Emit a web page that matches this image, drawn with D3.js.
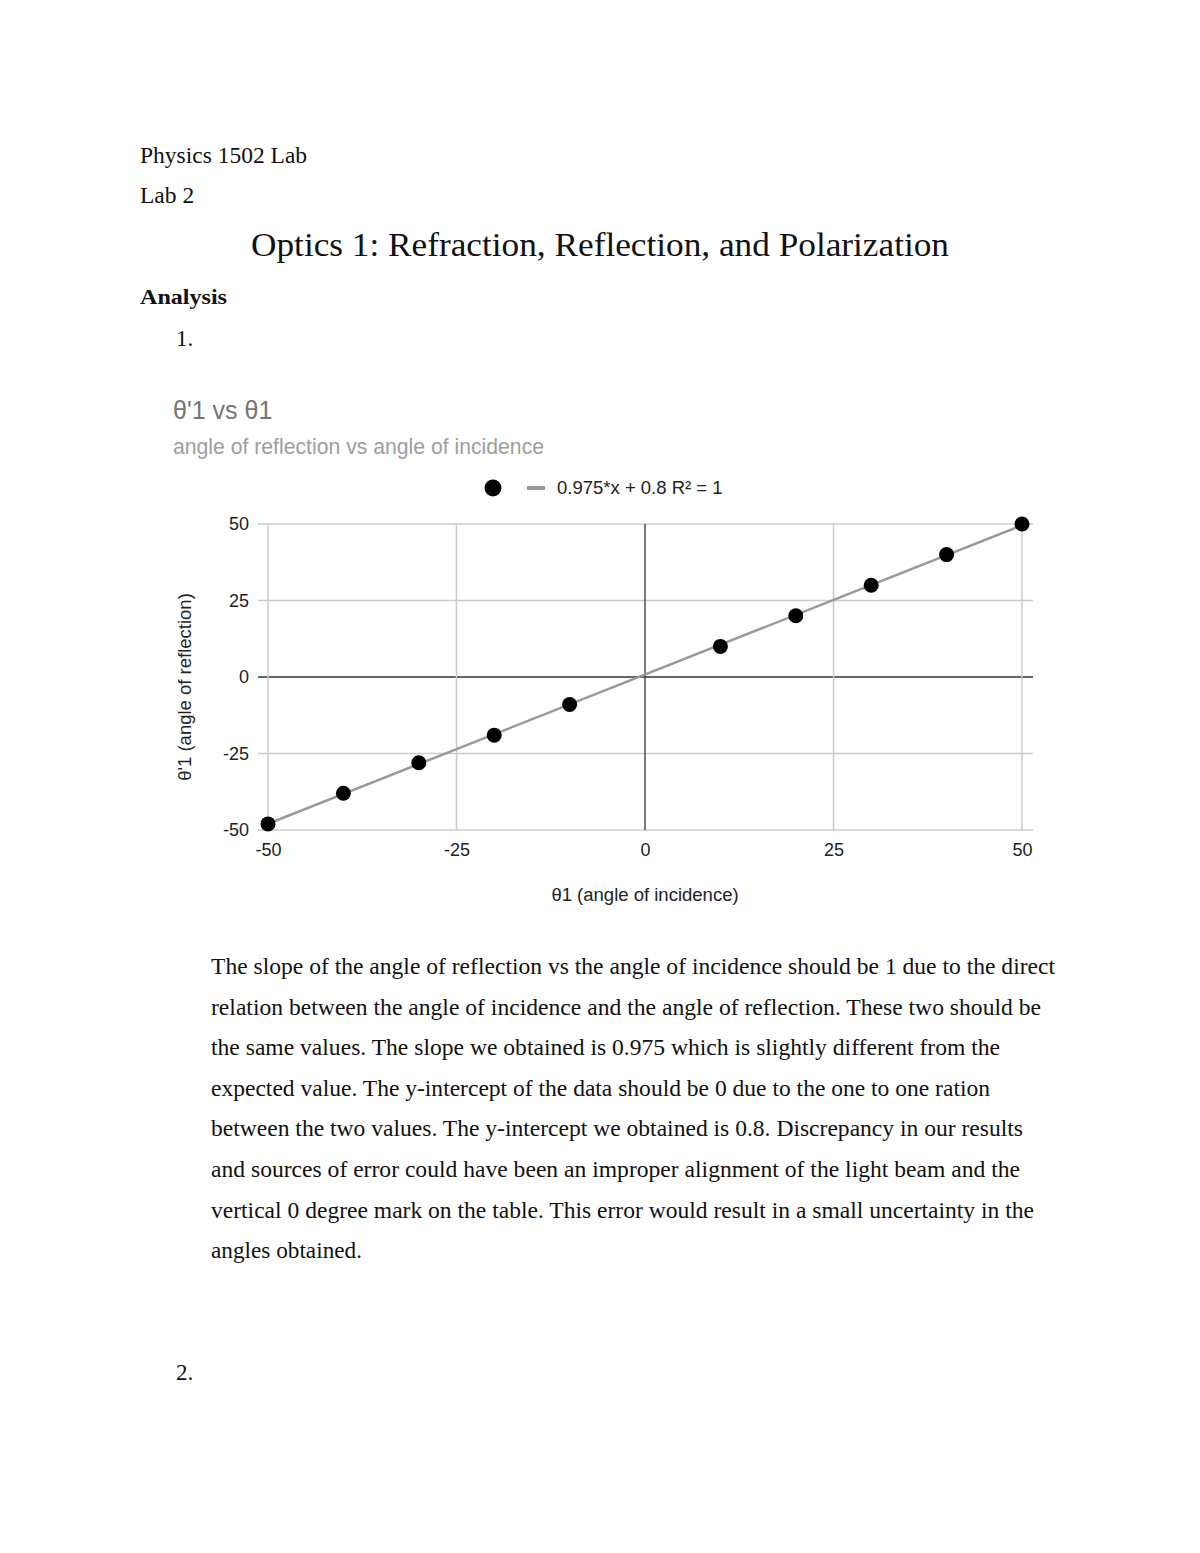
<!DOCTYPE html>
<html>
<head>
<meta charset="utf-8">
<script src="https://cdn.jsdelivr.net/npm/d3@7"></script>
<style>
  html, body { margin: 0; padding: 0; background: #fff; }
  svg { display: block; }
</style>
</head>
<body>
<svg id="page" width="1200" height="1553"></svg>
<script>
// ---- data ----
const incidence = [-50, -40, -30, -20, -10, 10, 20, 30, 40, 50];
const reflection = [-48, -38, -28, -19, -9, 10, 20, 30, 40, 50];
const xTicks = [-50, -25, 0, 25, 50];
const yTicks = [-50, -25, 0, 25, 50];
const fitSlope = 0.975;
const fitIntercept = 0.8;
const legendLabel = "0.975*x + 0.8 R² = 1";
const chartTitle = "θ'1 vs θ1";
const chartSubtitle = "angle of reflection vs angle of incidence";
const xTitle = "θ1 (angle of incidence)";
const yTitle = "θ'1 (angle of reflection)";
const paragraphLines = [
  "The slope of the angle of reflection vs the angle of incidence should be 1 due to the direct",
  "relation between the angle of incidence and the angle of reflection. These two should be",
  "the same values. The slope we obtained is 0.975 which is slightly different from the",
  "expected value. The y-intercept of the data should be 0 due to the one to one ration",
  "between the two values. The y-intercept we obtained is 0.8. Discrepancy in our results",
  "and sources of error could have been an improper alignment of the light beam and the",
  "vertical 0 degree mark on the table. This error would result in a small uncertainty in the",
  "angles obtained."
];
const lineWidths = [844, 830, 789, 779, 812, 809, 823, 151];

const svg = d3.select("#page");
const serif = "'Liberation Serif', 'Times New Roman', serif";
const sans = "'Liberation Sans', Arial, sans-serif";
const ink = "#111";

// ---- document text ----
svg.append("text").attr("x", 140).attr("y", 163).attr("font-family", serif).attr("font-size", 23.5).attr("fill", ink).text("Physics 1502 Lab");
svg.append("text").attr("x", 140).attr("y", 203).attr("font-family", serif).attr("font-size", 23.5).attr("fill", ink).text("Lab 2");
svg.append("text").attr("x", 251).attr("y", 256).attr("font-family", serif).attr("font-size", 34).attr("fill", ink)
  .attr("textLength", 698).attr("lengthAdjust", "spacingAndGlyphs")
  .text("Optics 1: Refraction, Reflection, and Polarization");
svg.append("text").attr("x", 140).attr("y", 304).attr("font-family", serif).attr("font-size", 22).attr("font-weight", "bold").attr("fill", ink)
  .attr("textLength", 87).attr("lengthAdjust", "spacingAndGlyphs").text("Analysis");
svg.append("text").attr("x", 176).attr("y", 346).attr("font-family", serif).attr("font-size", 23).attr("fill", ink).text("1.");
svg.append("text").attr("x", 176).attr("y", 1380).attr("font-family", serif).attr("font-size", 23).attr("fill", ink).text("2.");

paragraphLines.forEach((ln, i) => {
  svg.append("text")
    .attr("x", 211).attr("y", 974 + i * 40.6)
    .attr("font-family", serif).attr("font-size", 22.5).attr("fill", ink)
    .attr("textLength", lineWidths[i]).attr("lengthAdjust", "spacingAndGlyphs")
    .text(ln);
});

// ---- chart ----
const x = d3.scaleLinear().domain([-50, 50]).range([268, 1022]);
const y = d3.scaleLinear().domain([-50, 50]).range([830, 524]);
const gridLeft = 258, gridRight = 1033;

svg.append("text").attr("x", 173).attr("y", 419).attr("font-family", sans).attr("font-size", 25).attr("fill", "#757575").text(chartTitle);
svg.append("text").attr("x", 173).attr("y", 454).attr("font-family", sans).attr("font-size", 21.2).attr("fill", "#9e9e9e").text(chartSubtitle);

// legend
svg.append("circle").attr("cx", 493).attr("cy", 488).attr("r", 8.5).attr("fill", "#000");
svg.append("line").attr("x1", 527).attr("x2", 545).attr("y1", 488).attr("y2", 488).attr("stroke", "#999").attr("stroke-width", 4);
svg.append("text").attr("x", 557).attr("y", 494).attr("font-family", sans).attr("font-size", 18.5).attr("fill", "#222").text(legendLabel);

// gridlines
const g = svg.append("g");
g.selectAll(".hgrid").data(yTicks).join("line")
  .attr("x1", gridLeft).attr("x2", gridRight)
  .attr("y1", d => y(d)).attr("y2", d => y(d))
  .attr("stroke", d => d === 0 ? "#333" : "#ccc")
  .attr("stroke-width", d => d === 0 ? 1.3 : 1.5);
g.selectAll(".vgrid").data(xTicks).join("line")
  .attr("x1", d => x(d)).attr("x2", d => x(d))
  .attr("y1", y(50)).attr("y2", y(-50))
  .attr("stroke", d => d === 0 ? "#333" : "#ccc")
  .attr("stroke-width", d => d === 0 ? 1.3 : 1.5);

// tick labels via axes
const fmt = d => String(d);
const yAxis = d3.axisLeft(y).tickValues(yTicks).tickSize(0).tickPadding(0).tickFormat(fmt);
const ya = svg.append("g").attr("transform", `translate(249,0)`).call(yAxis);
ya.select(".domain").remove();
ya.attr("font-family", sans).attr("font-size", 18);
ya.selectAll("text").attr("fill", "#222");

const xAxis = d3.axisBottom(x).tickValues(xTicks).tickSize(0).tickPadding(0).tickFormat(fmt);
const xa = svg.append("g").attr("transform", `translate(0,843)`).call(xAxis);
xa.select(".domain").remove();
xa.attr("font-family", sans).attr("font-size", 18);
xa.selectAll("text").attr("fill", "#222");

// axis titles
svg.append("text").attr("x", 645).attr("y", 901).attr("text-anchor", "middle").attr("font-family", sans).attr("font-size", 18.5).attr("fill", "#222").text(xTitle);
svg.append("text").attr("transform", `translate(191,687) rotate(-90)`).attr("text-anchor", "middle").attr("font-family", sans).attr("font-size", 18.5).attr("fill", "#222").text(yTitle);

// trendline
svg.append("line")
  .attr("x1", x(-50)).attr("y1", y(fitSlope * -50 + fitIntercept))
  .attr("x2", x(50)).attr("y2", y(fitSlope * 50 + fitIntercept))
  .attr("stroke", "#999").attr("stroke-width", 2.5);

// points
svg.append("g").selectAll("circle").data(incidence.map((v, i) => [v, reflection[i]])).join("circle")
  .attr("cx", d => x(d[0])).attr("cy", d => y(d[1])).attr("r", 7.5).attr("fill", "#000");
</script>
</body>
</html>
